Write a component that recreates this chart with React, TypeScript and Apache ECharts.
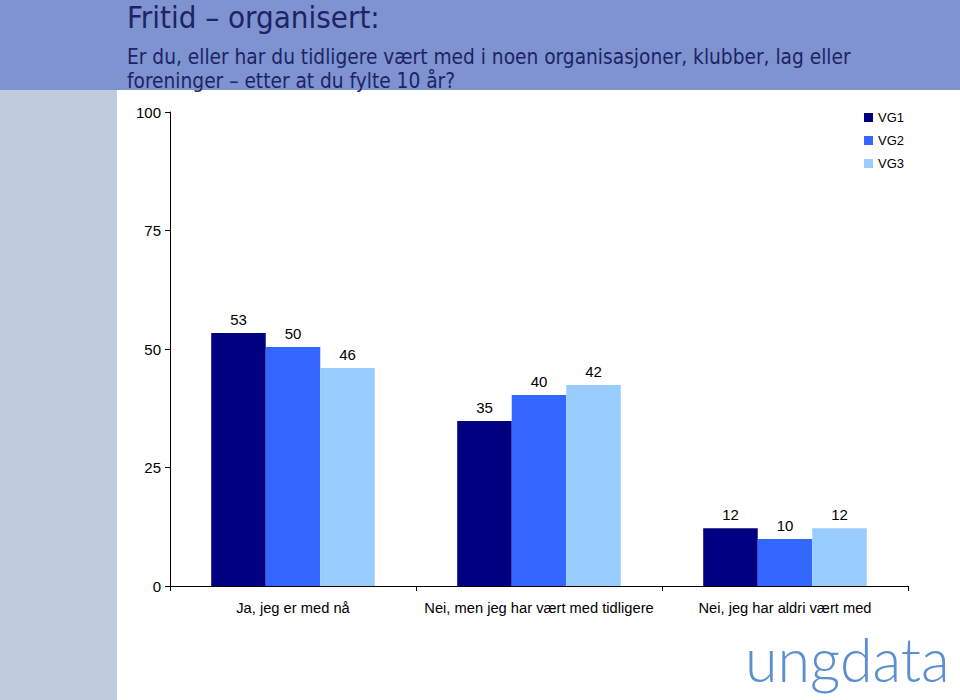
import React, { useEffect, useRef } from "react";
import * as echarts from "echarts";

const categories = ["Ja, jeg er med nå", "Nei, men jeg har vært med tidligere", "Nei, jeg har aldri vært med"];
const seriesNames = ["VG1", "VG2", "VG3"];
const vg1 = [53.4, 34.8, 12.2];
const vg2 = [50.4, 40.3, 9.9];
const vg3 = [46.0, 42.4, 12.2];
const seriesColors = ["#000080", "#3366ff", "#99ccff"];
const yTicks = [0, 25, 50, 75, 100];
const titleText = "Fritid – organisert:";
const subtitleLines = [
  "Er du, eller har du tidligere vært med i noen organisasjoner, klubber, lag eller",
  "foreninger – etter at du fylte 10 år?",
];

export default function App() {
  const ref = useRef<HTMLDivElement>(null);
  useEffect(() => {
    if (!ref.current) return;
    const chart = echarts.init(ref.current, null, { renderer: "svg" });
    const values = [vg1, vg2, vg3];
    chart.setOption({
      animation: false,
      backgroundColor: "#ffffff",
      textStyle: { fontFamily: "Liberation Sans, Arial, sans-serif" },
      graphic: [
        { type: "rect", shape: { x: 0, y: 0, width: 960, height: 90 }, style: { fill: "#7f93d0" }, z: -10 },
        { type: "rect", shape: { x: 0, y: 90, width: 117, height: 610 }, style: { fill: "#c1cbde" }, z: -10 },
        {
          type: "text", left: 127, top: 1,
          style: { text: titleText, fill: "#1c2466", font: "31px 'DejaVu Sans Condensed', 'DejaVu Sans', sans-serif" },
        },
        {
          type: "text", left: 127, top: 46,
          style: { text: subtitleLines[0], fill: "#1c2466", font: "20.7px 'DejaVu Sans Condensed', 'DejaVu Sans', sans-serif" },
        },
        {
          type: "text", left: 127, top: 70,
          style: { text: subtitleLines[1], fill: "#1c2466", font: "20.7px 'DejaVu Sans Condensed', 'DejaVu Sans', sans-serif" },
        },
        {
          type: "text", x: 745, y: 628, scaleX: 0.97,
          style: { text: "ungdata", fill: "#5b8fd0", font: "300 61px Lato, sans-serif" },
        },
      ],
      legend: {
        orient: "vertical",
        left: 859,
        top: 106,
        itemWidth: 9,
        itemHeight: 9,
        itemGap: 10,
        icon: "rect",
        data: seriesNames,
        textStyle: { fontSize: 13, color: "#000", fontFamily: "Liberation Sans, Arial, sans-serif" },
      },
      grid: { left: 170, top: 112, width: 738, height: 474, containLabel: false },
      xAxis: {
        type: "category",
        data: categories,
        axisLine: { lineStyle: { color: "#000", width: 1 } },
        axisTick: { show: true, alignWithLabel: false, length: 5, lineStyle: { color: "#000" } },
        axisLabel: { color: "#000", fontSize: 14.7, margin: 14, interval: 0 },
        splitLine: { show: false },
      },
      yAxis: {
        type: "value",
        min: 0,
        max: 100,
        interval: 25,
        axisLine: { show: true, lineStyle: { color: "#000", width: 1 } },
        axisTick: { show: true, length: 5, lineStyle: { color: "#000" } },
        axisLabel: { color: "#000", fontSize: 15, margin: 9, formatter: (v: number) => (yTicks.includes(v) ? String(v) : "") },
        splitLine: { show: false },
      },
      series: seriesNames.map((name, i) => ({
        name,
        type: "bar",
        data: values[i],
        barGap: "0%",
        barCategoryGap: "33.5%",
        itemStyle: { color: seriesColors[i] },
        label: {
          show: true,
          position: "top",
          distance: 6,
          color: "#000",
          fontSize: 15,
          formatter: (p: any) => String(Math.round(p.value)),
        },
      })),
    });
    return () => chart.dispose();
  }, []);
  return <div ref={ref} style={{ position: "fixed", left: 0, top: 0, width: 960, height: 700 }} />;
}
